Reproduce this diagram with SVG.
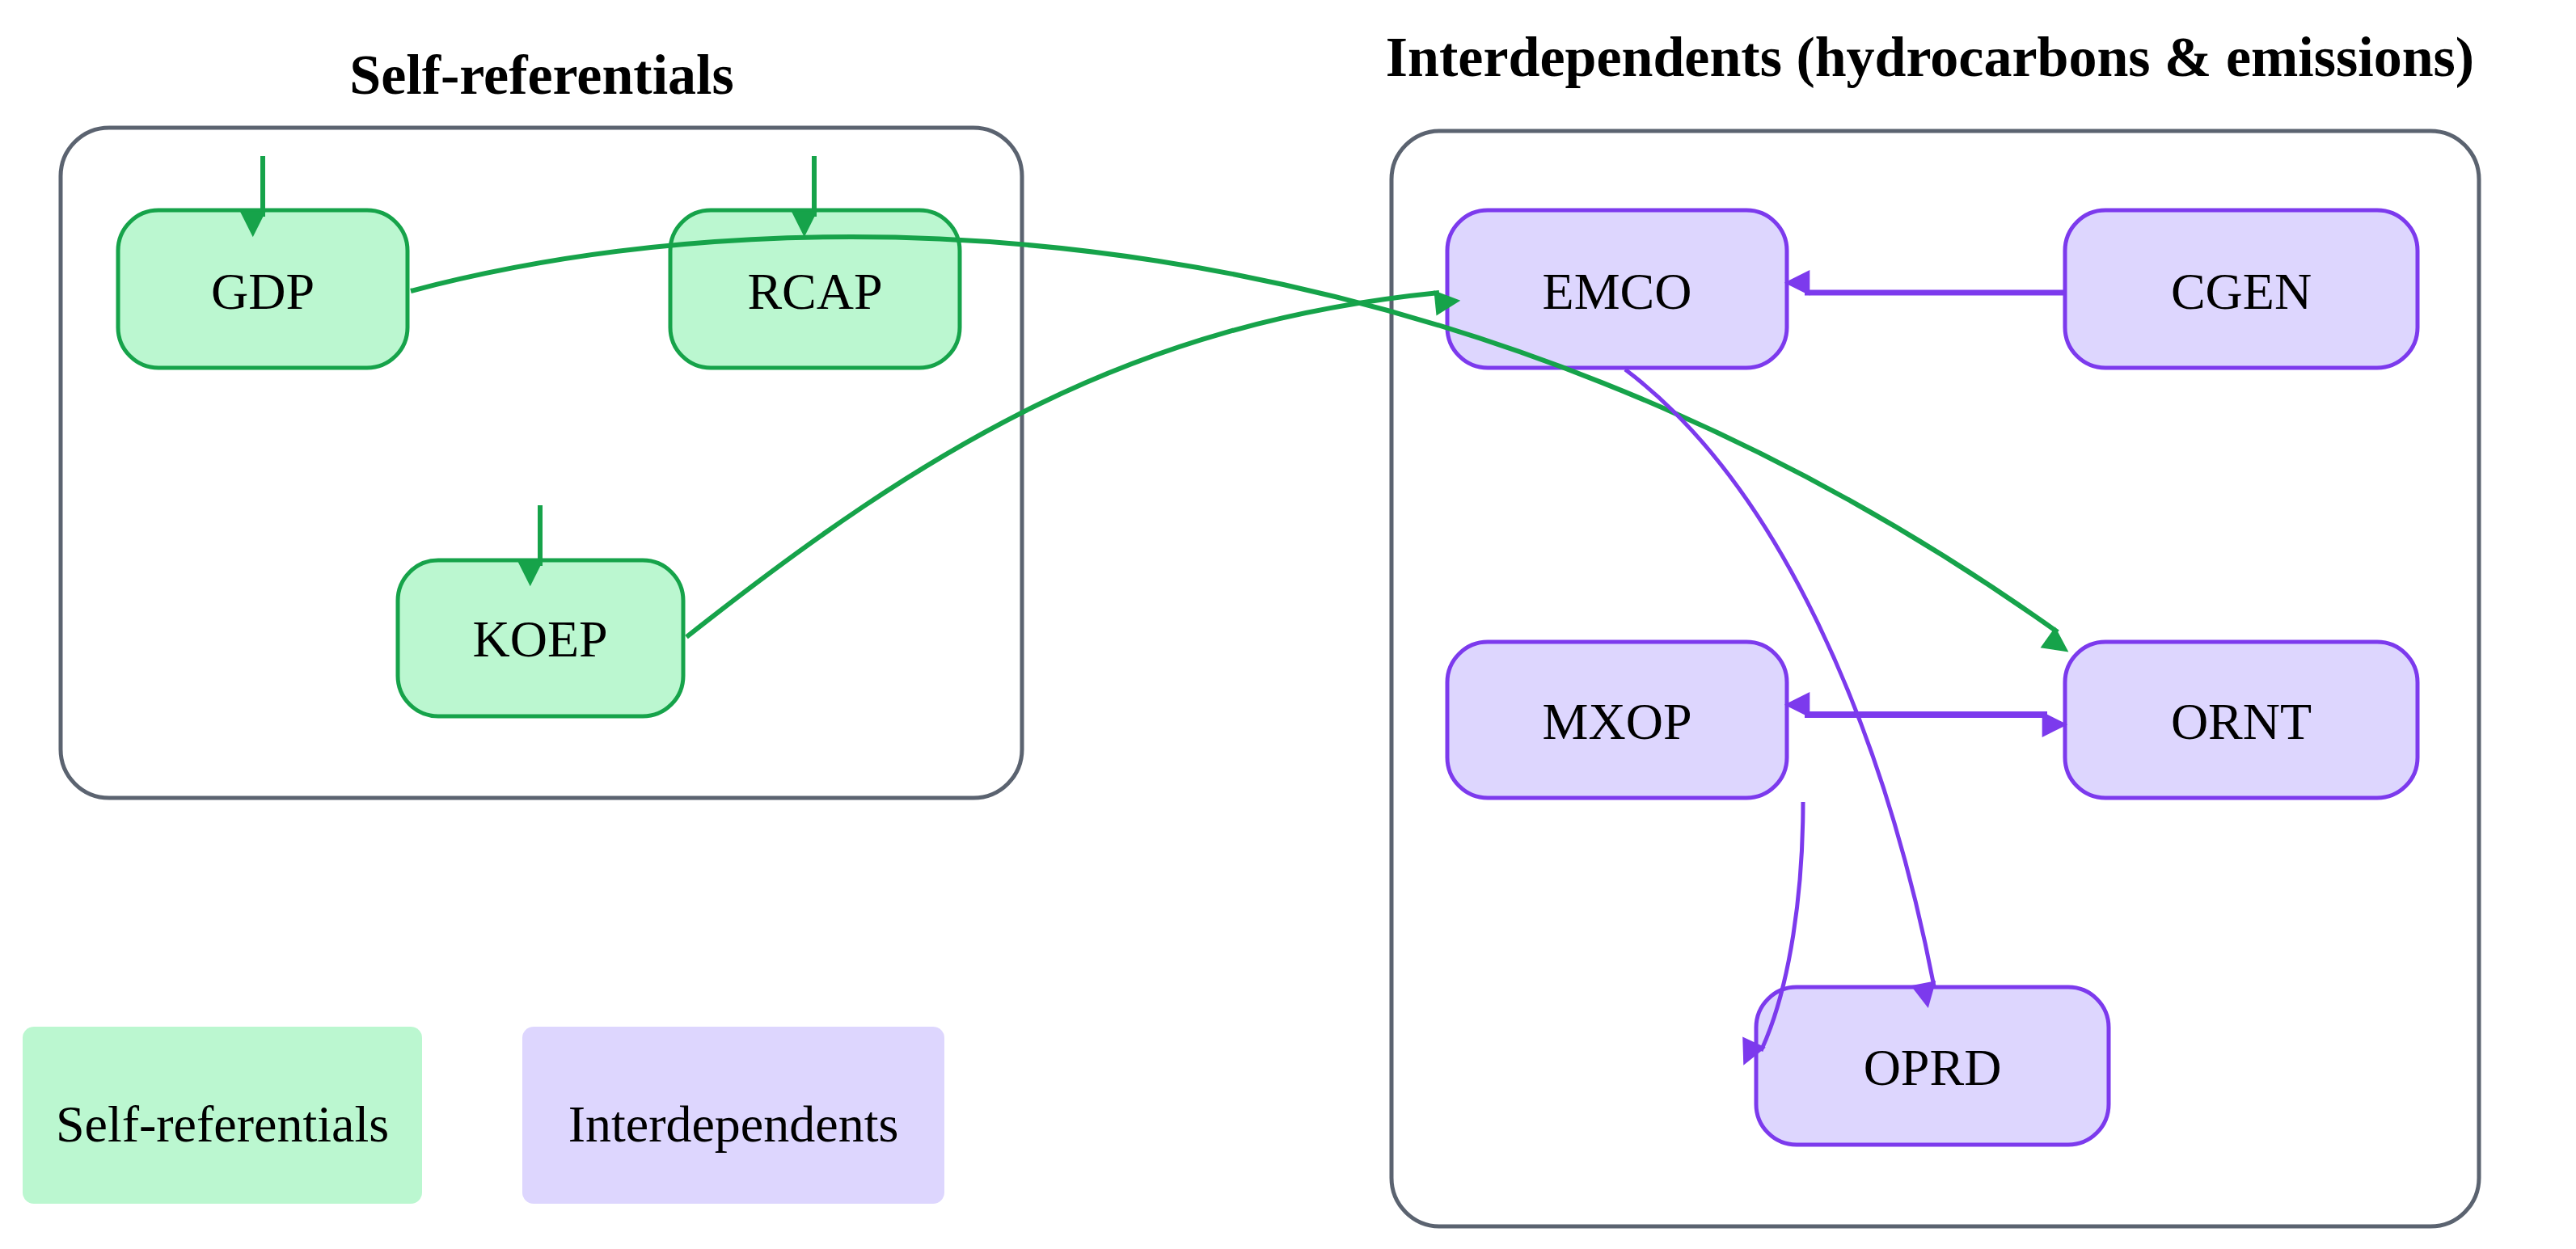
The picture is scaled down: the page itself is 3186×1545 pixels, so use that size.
<svg xmlns="http://www.w3.org/2000/svg" width="3186" height="1545" viewBox="0 0 3186 1545">
<style>
text{font-family:"Liberation Serif",serif;fill:#000;text-anchor:middle;dominant-baseline:central}
.cl{fill:#fff;stroke:#5b6370;stroke-width:5}
.g{fill:#bbf7d0;stroke:#16a34a;stroke-width:5}
.p{fill:#ddd6fe;stroke:#7c3aed;stroke-width:5}
.lbl{font-size:64px}
.t{font-size:70px;font-weight:bold}
.eg{fill:none;stroke:#16a34a;stroke-width:6}
.ep{fill:none;stroke:#7c3aed;stroke-width:5}
</style>
<defs>
<marker id="ag" viewBox="0 0 10 10" refX="9" refY="5" markerWidth="7" markerHeight="7" markerUnits="userSpaceOnUse" orient="auto" style="overflow:visible"><path d="M0 0L10 5L0 10z" fill="#16a34a" transform="scale(4.5)"/></marker>
<marker id="ap" viewBox="0 0 10 10" refX="9" refY="5" markerWidth="7" markerHeight="7" markerUnits="userSpaceOnUse" orient="auto-start-reverse" style="overflow:visible"><path d="M0 0L10 5L0 10z" fill="#7c3aed" transform="scale(4.5)"/></marker>
</defs>
<rect width="3186" height="1545" fill="#fff"/>
<g id="cluster-self">
<rect class="cl" x="75" y="158" width="1189" height="829" rx="60"/>
<text class="t" x="670" y="92">Self-referentials</text>
</g>
<g id="cluster-inter">
<rect class="cl" x="1721" y="162" width="1345" height="1355" rx="60"/>
<text class="t" x="2387" y="70">Interdependents (hydrocarbons &amp; emissions)</text>
</g>
<g id="GDP"><rect class="g" x="146" y="260" width="358" height="195" rx="50"/><text class="lbl" x="325" y="360">GDP</text></g>
<g id="RCAP"><rect class="g" x="829" y="260" width="358" height="195" rx="50"/><text class="lbl" x="1008" y="360">RCAP</text></g>
<g id="KOEP"><rect class="g" x="492" y="693" width="353" height="193" rx="50"/><text class="lbl" x="668" y="790">KOEP</text></g>
<g id="EMCO"><rect class="p" x="1790" y="260" width="420" height="195" rx="50"/><text class="lbl" x="2000" y="360">EMCO</text></g>
<g id="CGEN"><rect class="p" x="2554" y="260" width="436" height="195" rx="50"/><text class="lbl" x="2772" y="360">CGEN</text></g>
<g id="MXOP"><rect class="p" x="1790" y="794" width="420" height="193" rx="50"/><text class="lbl" x="2000" y="892">MXOP</text></g>
<g id="ORNT"><rect class="p" x="2554" y="794" width="436" height="193" rx="50"/><text class="lbl" x="2772" y="892">ORNT</text></g>
<g id="OPRD"><rect class="p" x="2172" y="1221" width="436" height="195" rx="50"/><text class="lbl" x="2390" y="1320">OPRD</text></g>
<g id="legend">
<rect x="28" y="1270" width="494" height="219" rx="14" fill="#bbf7d0"/><text class="lbl" x="275" y="1390">Self-referentials</text>
<rect x="646" y="1270" width="522" height="219" rx="14" fill="#ddd6fe"/><text class="lbl" x="907" y="1390">Interdependents</text>
</g>
<g id="connectors">
<path class="eg" d="M325 193V268" marker-end="url(#ag)"/>
<path class="eg" d="M1007 193V268" marker-end="url(#ag)"/>
<path class="eg" d="M668 625V700" marker-end="url(#ag)"/>
<path class="eg" d="M508 360C1000 230 1800 250 2545 782" marker-end="url(#ag)"/>
<path class="eg" d="M849 788C1150 550 1400 400 1780 362" marker-end="url(#ag)"/>
<path class="ep" style="stroke-width:7" d="M2554 362H2232" marker-end="url(#ap)"/>
<path class="ep" style="stroke-width:8" d="M2232 884H2532" marker-start="url(#ap)" marker-end="url(#ap)"/>
<path class="ep" d="M2010 457C2200 600 2330 900 2392 1220" marker-end="url(#ap)"/>
<path class="ep" d="M2230 992C2230 1100 2215 1220 2178 1300" marker-end="url(#ap)"/>
</g>
</svg>
